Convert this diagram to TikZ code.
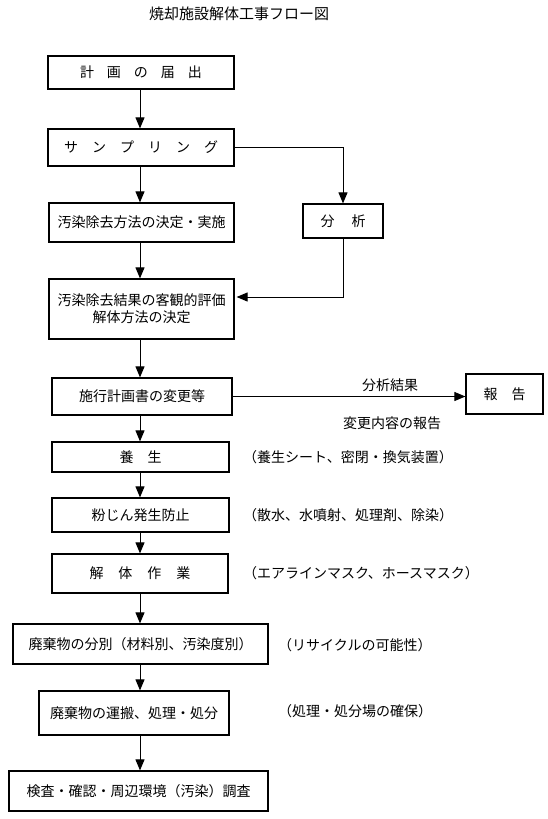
\documentclass[tikz,border=0pt]{standalone}
\usepackage{fontspec}
\setmainfont{Noto Sans CJK JP}
\usetikzlibrary{arrows.meta}
\newcommand\gapx[1]{\hspace{#1pt}}
\begin{document}
\begin{tikzpicture}[x=1pt,y=-1pt,
  box/.style={draw,line width=1.2pt,rectangle,inner sep=0pt,font=\fontsize{14pt}{17pt}\selectfont},
  arr/.style={line width=1pt,-{Triangle[width=9pt,length=11pt]}},
  ln/.style={line width=1pt},
  note/.style={anchor=west,inner sep=0pt,font=\fontsize{14pt}{17pt}\selectfont},
  lbl/.style={inner sep=0pt,font=\fontsize{14pt}{17pt}\selectfont}]
\useasboundingbox (0,0) rectangle (548,819);
\node[lbl,font=\fontsize{15pt}{18pt}\selectfont] (title) at (239,14) {焼却施設解体工事フロー図};
\coordinate (ax) at (140,0);
\node[box,minimum width=186pt,minimum height=33pt] (b1) at (141,72.5) {計\gapx{13}画\gapx{13}の\gapx{13}届\gapx{13}出};
\node[box,minimum width=186pt,minimum height=37pt] (b2) at (141,147.5) {サ\gapx{14}ン\gapx{14}プ\gapx{14}リ\gapx{14}ン\gapx{14}グ};
\node[box,minimum width=185pt,minimum height=39pt] (b3) at (141.5,222.5) {汚染除去方法の決定・実施};
\node[box,minimum width=80pt,minimum height=34pt] (an) at (343,221) {分\gapx{17}析};
\node[box,minimum width=185pt,minimum height=60pt,align=center] (b4) at (141.5,309) {汚染除去結果の客観的評価\\解体方法の決定};
\node[box,minimum width=180pt,minimum height=37pt] (b5) at (142,396.5) {施行計画書の変更等};
\node[box,minimum width=77pt,minimum height=40pt] (rep) at (504.5,394) {報\gapx{14}告};
\node[lbl] (l1) at (390,385) {分析結果};
\node[lbl] (l2) at (392,423) {変更内容の報告};
\node[box,minimum width=177pt,minimum height=30pt] (b6) at (140.5,457) {養\gapx{14}生};
\node[box,minimum width=177pt,minimum height=34pt] (b7) at (140.5,515) {粉じん発生防止};
\node[box,minimum width=176pt,minimum height=39pt] (b8) at (140,573.5) {解\gapx{15}体\gapx{15}作\gapx{15}業};
\node[box,minimum width=255pt,minimum height=40pt] (b9) at (140.5,644) {廃棄物の分別（材料別、汚染度別）};
\node[box,minimum width=190pt,minimum height=44pt] (b10) at (134,713) {廃棄物の運搬、処理・処分};
\node[box,minimum width=259pt,minimum height=40pt] (b11) at (138.5,791) {検査・確認・周辺環境（汚染）調査};
\node[note] (n1) at (243,457) {（養生シート、密閉・換気装置）};
\node[note] (n2) at (243,515) {（散水、水噴射、処理剤、除染）};
\node[note] (n3) at (243,573) {（エアラインマスク、ホースマスク）};
\node[note] (n4) at (278,645) {（リサイクルの可能性）};
\node[note] (n5) at (278,711) {（処理・処分場の確保）};
\draw[arr] (b1.south -| ax) -- (b2.north -| ax);
\draw[arr] (b2.south -| ax) -- (b3.north -| ax);
\draw[arr] (b3.south -| ax) -- (b4.north -| ax);
\draw[arr] (b4.south -| ax) -- (b5.north -| ax);
\draw[arr] (b5.south -| ax) -- (b6.north -| ax);
\draw[arr] (b6.south -| ax) -- (b7.north -| ax);
\draw[arr] (b7.south -| ax) -- (b8.north -| ax);
\draw[arr] (b8.south -| ax) -- (b9.north -| ax);
\draw[arr] (b9.south -| ax) -- (b10.north -| ax);
\draw[arr] (b10.south -| ax) -- (b11.north -| ax);
\draw[arr] (b2.east) -| (an.north);
\draw[arr] (an.south) |- ([xshift=2pt,yshift=12pt]b4.east);
\draw[arr] (b5.east) -- (b5.east -| rep.west);
\end{tikzpicture}
\end{document}
